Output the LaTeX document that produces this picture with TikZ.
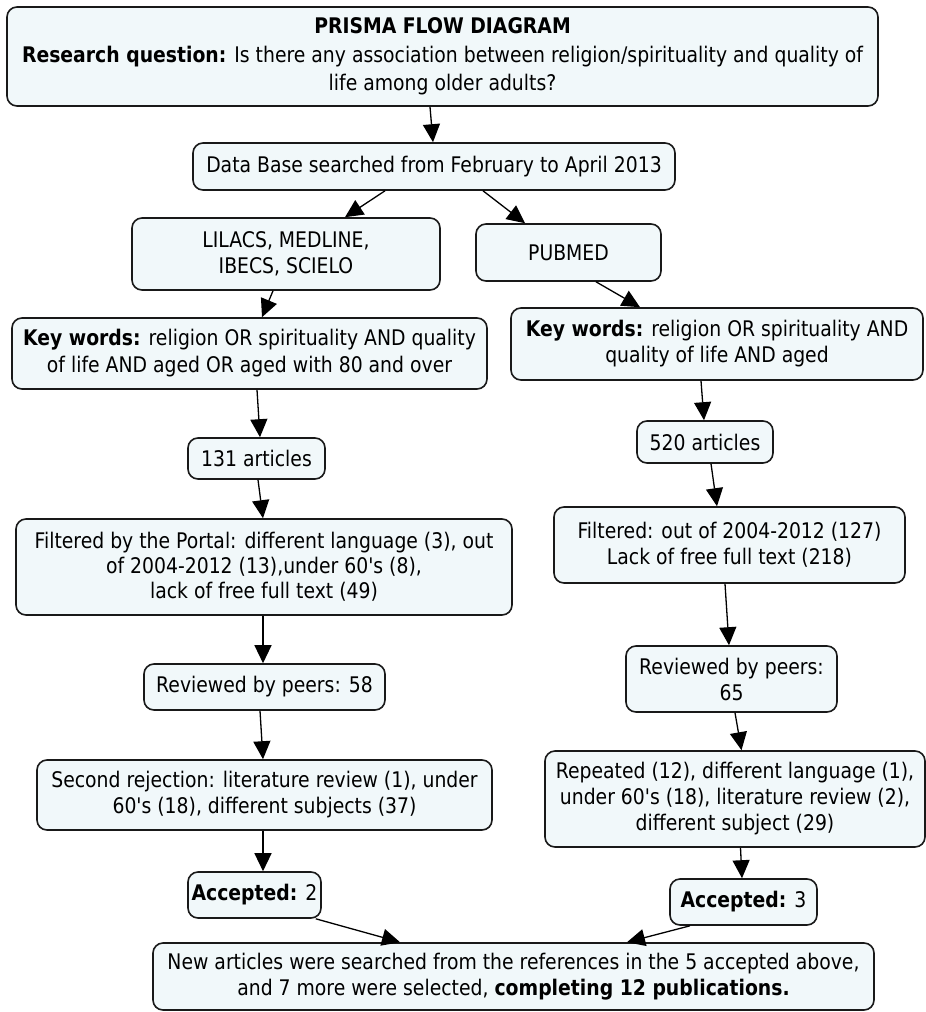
\documentclass[tikz,border=0pt]{standalone}
\usepackage{fontspec}
\setmainfont{DejaVu Sans}[FakeStretch=0.875, Ligatures=TeXOff]
\usetikzlibrary{arrows.meta}
\definecolor{boxfill}{RGB}{241,248,250}
\definecolor{boxline}{RGB}{25,25,25}
\tikzset{
 box/.style={draw=boxline, line width=1.6pt, fill=boxfill, rounded corners=10pt, inner sep=0pt, align=center, font=\fontsize{21.5}{26}\selectfont},
 arr/.style={line width=1.3pt, -{Triangle[length=18pt,width=17pt]}},
}
\begin{document}
\begin{tikzpicture}[x=1pt,y=-1pt]
\useasboundingbox (0,0) rectangle (926,1012);
\node[box, minimum width=871pt, minimum height=99pt, font=\fontsize{21.5}{28.5}\selectfont] (top) at (442.5,56.5) {\textbf{PRISMA FLOW DIAGRAM}\\ \textbf{Research question:} Is there any association between religion/spirituality and quality of\\ life among older adults?};
\node[box, minimum width=482pt, minimum height=47pt] (db) at (434,166.5) {Data Base searched from February to April 2013};
\node[box, minimum width=308pt, minimum height=72pt] (lil) at (286,254) {LILACS, MEDLINE,\\ IBECS, SCIELO};
\node[box, minimum width=185pt, minimum height=57pt] (pub) at (568.5,252.5) {PUBMED};
\node[box, minimum width=475pt, minimum height=71pt, font=\fontsize{21.5}{27}\selectfont] (kwl) at (249.5,353.5) {\textbf{Key words:} religion OR spirituality AND quality\\ of life AND aged OR aged with 80 and over};
\node[box, minimum width=412pt, minimum height=72pt] (kwr) at (717,344) {\textbf{Key words:} religion OR spirituality AND\\ quality of life AND aged};
\node[box, minimum width=137pt, minimum height=41pt] (a131) at (256.5,458.5) {131 articles};
\node[box, minimum width=136pt, minimum height=42pt] (a520) at (705,442) {520 articles};
\node[box, minimum width=496pt, minimum height=96pt, font=\fontsize{21.5}{25}\selectfont] (fl) at (264,567) {Filtered by the Portal: different language (3), out\\ of 2004-2012 (13),under 60's (8),\\ lack of free full text (49)};
\node[box, minimum width=351pt, minimum height=76pt] (fr) at (729.5,545) {Filtered: out of 2004-2012 (127)\\ Lack of free full text (218)};
\node[box, minimum width=241pt, minimum height=46pt] (r58) at (264.5,687) {Reviewed by peers: 58};
\node[box, minimum width=211pt, minimum height=66pt] (r65) at (731.5,679) {Reviewed by peers:\\ 65};
\node[box, minimum width=455pt, minimum height=70pt] (sec) at (264.5,795) {Second rejection: literature review (1), under\\ 60's (18), different subjects (37)};
\node[box, minimum width=380pt, minimum height=96pt] (rep) at (735,799) {Repeated (12), different language (1),\\ under 60's (18), literature review (2),\\ different subject (29)};
\node[box, minimum width=133pt, minimum height=46pt] (acc2) at (254.5,895) {\textbf{Accepted:} 2};
\node[box, minimum width=147pt, minimum height=46pt] (acc3) at (743.5,902) {\textbf{Accepted:} 3};
\node[box, minimum width=721pt, minimum height=67pt] (bot) at (513.5,976.5) {New articles were searched from the references in the 5 accepted above,\\ and 7 more were selected, \textbf{completing 12 publications.}};
% arrows
\draw[arr] ([xshift=-12.5pt]top.south) -- ([xshift=-1pt]db.north);
\draw[arr] ([xshift=-49pt]db.south) -- ([xshift=59pt]lil.north);
\draw[arr] ([xshift=49pt]db.south) -- ([xshift=-43.5pt]pub.north);
\draw[arr] ([xshift=-13pt]lil.south) -- ([xshift=12.5pt]kwl.north);
\draw[arr] ([xshift=27.5pt]pub.south) -- ([xshift=-77pt]kwr.north);
\draw[arr] ([xshift=7.5pt]kwl.south) -- ([xshift=3.5pt]a131.north);
\draw[arr] ([xshift=-16pt]kwr.south) -- ([xshift=-1pt]a520.north);
\draw[arr] ([xshift=1.5pt]a131.south) -- ([xshift=-1pt]fl.north);
\draw[arr] ([xshift=6pt]a520.south) -- ([xshift=-12.5pt]fr.north);
\draw[arr] ([xshift=-1pt]fl.south) -- ([xshift=-1.5pt]r58.north);
\draw[arr] ([xshift=-4.5pt]fr.south) -- ([xshift=-2.5pt]r65.north);
\draw[arr] ([xshift=-4.5pt]r58.south) -- ([xshift=-1.5pt]sec.north);
\draw[arr] ([xshift=3.5pt]r65.south) -- ([xshift=6.5pt]rep.north);
\draw[arr] ([xshift=-1.5pt]sec.south) -- ([xshift=8.5pt]acc2.north);
\draw[arr] ([xshift=5.5pt]rep.south) -- ([xshift=-1.5pt]acc3.north);
\draw[arr] ([xshift=-6pt]acc2.south east) -- ([xshift=-113.5pt]bot.north);
\draw[arr] ([xshift=-53.5pt]acc3.south) -- ([xshift=113.5pt]bot.north);
\end{tikzpicture}
\end{document}
